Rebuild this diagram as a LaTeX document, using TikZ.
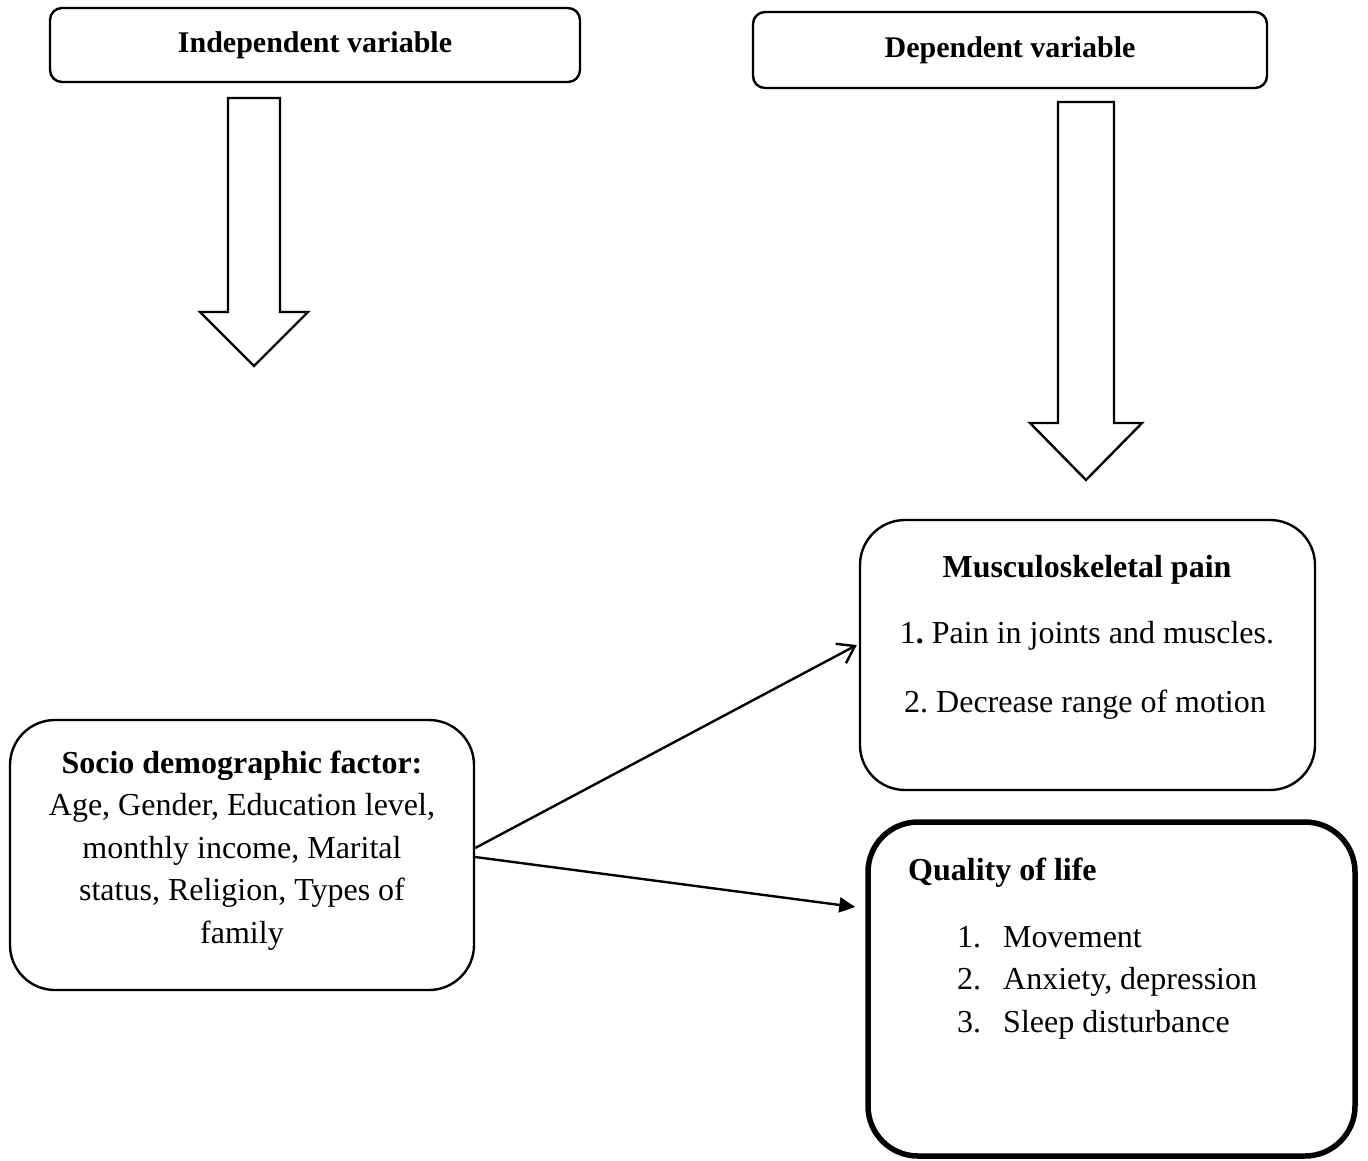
\documentclass[tikz,border=0pt]{standalone}
\usepackage{fontspec}
\setmainfont{Liberation Serif}
\usepackage{tikz}
\usetikzlibrary{arrows.meta,positioning,calc}
\frenchspacing

\begin{document}
\begin{tikzpicture}[x=1pt, y=-1pt, font=\fontsize{32}{42.5}\selectfont,
    varbox/.style={draw, line width=2.4pt, rounded corners=12pt, inner sep=0pt, font=\fontsize{30}{36}\selectfont\bfseries},
    mainbox/.style={draw, line width=2.4pt, rounded corners=45pt, inner sep=0pt},
    thickbox/.style={draw, line width=5.5pt, rounded corners=50pt, inner sep=0pt},
    blockarrow/.style={draw, line width=2.4pt, line join=miter},
    txt/.style={inner sep=0pt, anchor=base}]
        \useasboundingbox (0,0) rectangle (1368,1160);
        % headers
        \node (indep) at (315,45) [varbox, minimum width=530pt, minimum height=74pt] {Independent variable};
        \node (dep) at (1010,50) [varbox, minimum width=514pt, minimum height=76pt] {Dependent variable};
        % hollow block arrows below the headers
        \foreach \cx/\ytop/\yneck/\ytip/\sw/\hw in {254/98/312/366/26/54, 1086/102/423/480/28/56}
            \draw[blockarrow] (\cx-\sw,\ytop) -- (\cx+\sw,\ytop) -- (\cx+\sw,\yneck) -- (\cx+\hw,\yneck)
                -- (\cx,\ytip) -- (\cx-\hw,\yneck) -- (\cx-\sw,\yneck) -- cycle;
        % boxes
        \node (socio) at (242,855) [mainbox, minimum width=464pt, minimum height=270pt] {};
        \node (musc) at (1087.5,655) [mainbox, minimum width=455pt, minimum height=270pt] {};
        \node (qual) at (1111.5,989) [thickbox, minimum width=487pt, minimum height=334pt] {};
        % socio demographic text (base = last line)
        \node (sociotxt) at (242,943) [txt, align=center] {\textbf{Socio demographic factor:}\\
            Age, Gender, Education level,\\ monthly income, Marital\\ status, Religion, Types of\\ family};
        % musculoskeletal pain text
        \node (musctitle) at (1087,577) [txt] {\textbf{Musculoskeletal pain}};
        \node (musc1) at (1087,643) [txt] {1\textbf{.} Pain in joints and muscles.};
        \node (musc2) at (1085,712) [txt] {2. Decrease range of motion};
        % quality of life text
        \node (qualtitle) at (908,880) [txt, anchor=base west] {\textbf{Quality of life}};
        \foreach \i/\item in {1/Movement, 2/{Anxiety, depression}, 3/Sleep disturbance} {
            \node (qn\i) at (957,904.5+42.5*\i) [txt, anchor=base west] {\i.};
            \node (qt\i) at (1003,904.5+42.5*\i) [txt, anchor=base west] {\item};
        }
        % connectors
        \draw[line width=2.4pt, -{Straight Barb[length=16pt,width=22pt,line width=2.4pt]}]
            ([yshift=7pt]socio.east) -- ([xshift=-2pt,yshift=10pt]musc.west);
        \draw[line width=2.4pt, -{Triangle[length=16pt,width=15pt]}]
            ([yshift=-2pt]socio.east) -- ([xshift=-10pt,yshift=82pt]qual.west);
    \end{tikzpicture}
\end{document}
